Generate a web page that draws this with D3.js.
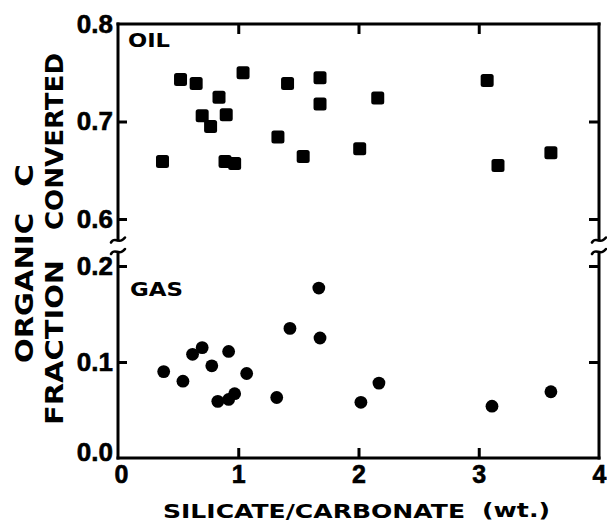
<!DOCTYPE html>
<html>
<head>
<meta charset="utf-8">
<script src="https://cdn.jsdelivr.net/npm/d3@7"></script>
<style>
  html, body { margin: 0; padding: 0; background: #fff; }
  svg { display: block; }
  text { fill: #000; }
</style>
</head>
<body>
<div id="chart"></div>
<script>
// ---- Data ----
const oilX = [0.37, 0.52, 0.65, 0.84, 0.70, 0.77, 0.90, 0.89, 0.97, 1.04, 1.41, 1.33, 1.54, 1.68, 1.68, 2.16, 2.01, 3.07, 3.16, 3.60];
const oilY = [0.659, 0.743, 0.739, 0.725, 0.706, 0.695, 0.707, 0.659, 0.657, 0.750, 0.739, 0.684, 0.664, 0.745, 0.718, 0.724, 0.672, 0.742, 0.655, 0.668];
const gasX = [0.38, 0.54, 0.62, 0.70, 0.78, 0.92, 1.07, 0.83, 0.92, 0.97, 1.32, 1.43, 1.67, 1.68, 2.02, 2.17, 3.11, 3.60];
const gasY = [0.090, 0.080, 0.108, 0.115, 0.096, 0.111, 0.088, 0.059, 0.061, 0.067, 0.063, 0.135, 0.177, 0.125, 0.058, 0.078, 0.054, 0.069];
const xTicks = [0, 1, 2, 3, 4];
const yTopTicks = [0.6, 0.7, 0.8];
const yBotTicks = [0.0, 0.1, 0.2];
const xTitle = "SILICATE/CARBONATE";
const xUnit = "(wt.)";
const oilLabel = "OIL";
const gasLabel = "GAS";

// ---- Layout ----
const W = 607, H = 522;
const mLeft = 118, mRight = 599, mTop = 24, mBottom = 458;
const breakTop = 240, breakBot = 253;

const x = d3.scaleLinear().domain([0, 4]).range([mLeft, mRight]);
const yTop = d3.scaleLinear().domain([0.6, 0.8]).range([219, mTop]);
const yBot = d3.scaleLinear().domain([0, 0.2]).range([mBottom, 266]);

const svg = d3.select("#chart").append("svg").attr("width", W).attr("height", H);

const font = "'DejaVu Sans', sans-serif";
const numFont = "'Liberation Sans', Arial, sans-serif";

// frame lines
const g = svg.append("g").attr("stroke", "#000").attr("stroke-width", 3).attr("fill", "none").attr("stroke-linecap", "square");
g.append("line").attr("x1", mLeft).attr("x2", mRight).attr("y1", mTop).attr("y2", mTop);
g.append("line").attr("x1", mLeft).attr("x2", mRight).attr("y1", mBottom).attr("y2", mBottom);
g.append("line").attr("x1", mLeft).attr("x2", mLeft).attr("y1", mTop).attr("y2", breakTop);
g.append("line").attr("x1", mLeft).attr("x2", mLeft).attr("y1", breakBot).attr("y2", mBottom);
g.append("line").attr("x1", mRight).attr("x2", mRight).attr("y1", mTop).attr("y2", breakTop);
g.append("line").attr("x1", mRight).attr("x2", mRight).attr("y1", breakBot).attr("y2", mBottom);

// break squiggles
function squiggle(cx, cy) {
  const p = d3.path();
  p.moveTo(cx - 7, cy + 2);
  p.bezierCurveTo(cx - 3, cy - 5, cx + 1, cy + 5, cx + 7, cy - 3);
  return p.toString();
}
[mLeft, mRight].forEach(cx => {
  [breakTop + 0.5, breakBot - 1].forEach(cy => {
    svg.append("path").attr("d", squiggle(cx, cy)).attr("fill", "none")
      .attr("stroke", "#000").attr("stroke-width", 2.6).attr("stroke-linecap", "round");
  });
});

function styleAxis(sel, size) {
  sel.select(".domain").remove();
  sel.selectAll(".tick line").attr("stroke", "#000").attr("stroke-width", 3);
  sel.selectAll(".tick text").attr("font-family", numFont).attr("font-weight", "bold")
     .attr("font-size", size).attr("fill", "#000").attr("stroke", "#000").attr("stroke-width", 0.6);
}

// bottom axis (ticks pointing up)
const xb = svg.append("g").attr("transform", `translate(0,${mBottom})`)
  .call(d3.axisBottom(x).tickValues(xTicks).tickFormat(d3.format("d")).tickSize(-10).tickPadding(7));
styleAxis(xb, 25);
xb.selectAll(".tick line").filter(d => d === 0 || d === 4).remove();
xb.selectAll(".tick text").attr("dy", "0.71em").attr("dx", d => d === 0 ? 3 : 0);

// top axis ticks (pointing down, no labels)
const xt = svg.append("g").attr("transform", `translate(0,${mTop})`)
  .call(d3.axisTop(x).tickValues([1, 2, 3]).tickFormat("").tickSize(-10));
styleAxis(xt, 0);

// left axes
const yl1 = svg.append("g").attr("transform", `translate(${mLeft},0)`)
  .call(d3.axisLeft(yTop).tickValues(yTopTicks).tickFormat(d3.format(".1f")).tickSize(-9).tickPadding(5));
styleAxis(yl1, 26);
yl1.selectAll(".tick line").filter(d => d === 0.8).remove();
const yl2 = svg.append("g").attr("transform", `translate(${mLeft},0)`)
  .call(d3.axisLeft(yBot).tickValues(yBotTicks).tickFormat(d3.format(".1f")).tickSize(-9).tickPadding(5));
styleAxis(yl2, 26);
yl2.selectAll(".tick line").filter(d => d === 0).remove();
yl2.selectAll(".tick text").filter(d => d === 0).attr("dy", "0.1em");

// right axes (ticks pointing left, no labels)
const yr1 = svg.append("g").attr("transform", `translate(${mRight},0)`)
  .call(d3.axisRight(yTop).tickValues([0.6, 0.7]).tickFormat("").tickSize(-10));
styleAxis(yr1, 0);
const yr2 = svg.append("g").attr("transform", `translate(${mRight},0)`)
  .call(d3.axisRight(yBot).tickValues([0.1, 0.2]).tickFormat("").tickSize(-10));
styleAxis(yr2, 0);

// data marks
const sq = 13;
svg.append("g").selectAll("rect").data(oilX.map((d, i) => [d, oilY[i]])).join("rect")
  .attr("x", d => x(d[0]) - sq / 2).attr("y", d => yTop(d[1]) - sq / 2)
  .attr("width", sq).attr("height", sq).attr("rx", 2.5).attr("fill", "#000");
svg.append("g").selectAll("circle").data(gasX.map((d, i) => [d, gasY[i]])).join("circle")
  .attr("cx", d => x(d[0])).attr("cy", d => yBot(d[1])).attr("r", 6.4).attr("fill", "#000");

// panel labels
svg.append("text").attr("x", 128).attr("y", 47).text(oilLabel)
  .attr("font-family", font).attr("font-weight", "bold").attr("font-size", 20)
  .attr("textLength", 42).attr("lengthAdjust", "spacingAndGlyphs");
svg.append("text").attr("x", 130).attr("y", 296).text(gasLabel)
  .attr("font-family", font).attr("font-weight", "bold").attr("font-size", 20)
  .attr("textLength", 53).attr("lengthAdjust", "spacingAndGlyphs");

// x title
svg.append("text").attr("x", 163).attr("y", 518).text(xTitle)
  .attr("font-family", font).attr("font-weight", "bold").attr("font-size", 20)
  .attr("textLength", 302).attr("lengthAdjust", "spacingAndGlyphs");
svg.append("text").attr("x", 482).attr("y", 517).text(xUnit)
  .attr("font-family", font).attr("font-weight", "bold").attr("font-size", 20)
  .attr("textLength", 68).attr("lengthAdjust", "spacingAndGlyphs");

// y titles (rotated)
function vtext(txt, baseX, yStart, yEnd, size) {
  svg.append("text").attr("transform", `translate(${baseX},${yStart}) rotate(-90)`)
    .text(txt).attr("font-family", font).attr("font-weight", "bold").attr("font-size", size)
    .attr("textLength", yStart - yEnd).attr("lengthAdjust", "spacingAndGlyphs");
}
vtext("ORGANIC", 33, 363, 213, 25);
vtext("C", 33, 187, 164, 25);
vtext("FRACTION", 63, 425, 260, 25);
vtext("CONVERTED", 63, 230, 53, 25);
</script>
</body>
</html>
